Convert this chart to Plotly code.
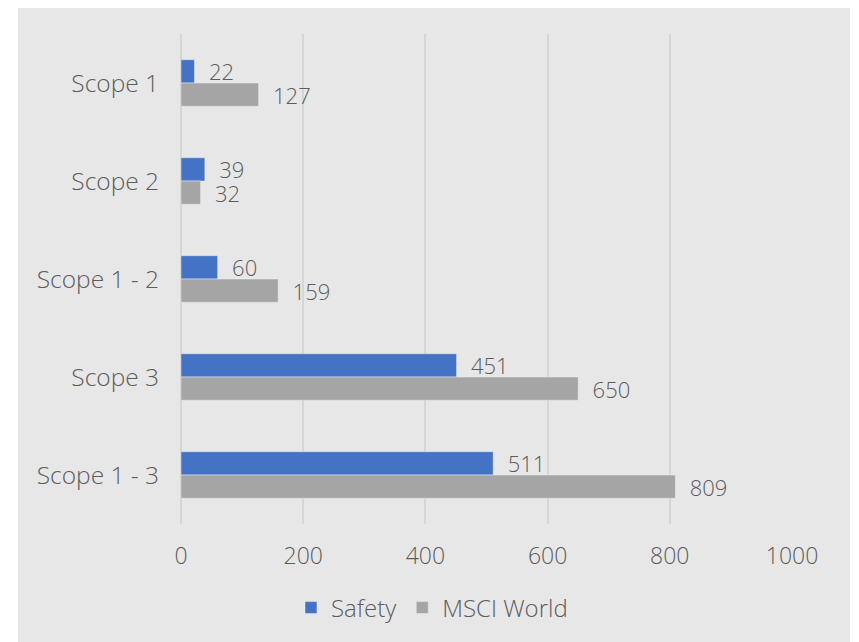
import plotly.graph_objects as go

categories = ["Scope 1", "Scope 2", "Scope 1 - 2", "Scope 3", "Scope 1 - 3"]
safety = [22, 39, 60, 451, 511]
msci_world = [127, 32, 159, 650, 809]
x_ticks = [0, 200, 400, 600, 800, 1000]

OFF = 8  # page body margin
W, H = 859 - OFF, 642 - OFF
ML, MR, MT, MB = 181 - OFF, 67, 34 - OFF, 118
PW, PH = W - ML - MR, H - MT - MB

def px_x(p):
    return (p - OFF - ML) / PW

def px_y(p):
    return (H - MB - (p - OFF)) / PH

FONT = "Open Sans"
TXT = "#5c5c5c"

fig = go.Figure()
for name, vals, col in [("Safety", safety, "#4472C4"), ("MSCI World", msci_world, "#A5A5A5")]:
    fig.add_trace(go.Bar(
        name=name, y=categories, x=vals, orientation="h",
        marker=dict(color=col),
        texttemplate="\u00a0\u00a0%{x}", textposition="outside",
        constraintext="none",
        textfont=dict(family=FONT, size=22, color=TXT, weight=300), cliponaxis=False,
    ))

fig.update_layout(
    width=W, height=H,
    margin=dict(l=ML, r=MR, t=MT, b=MB),
    paper_bgcolor="white",
    plot_bgcolor="rgba(0,0,0,0)",
    barmode="group",
    bargap=0.525,
    bargroupgap=0,
    font=dict(family=FONT, size=22, color=TXT, weight=300),
    showlegend=True,
    legend=dict(
        orientation="h", x=px_x(432), xanchor="center",
        y=px_y(608), yanchor="middle",
        font=dict(family=FONT, size=24, color=TXT, weight=300),
        bgcolor="rgba(0,0,0,0)", itemwidth=30,
    ),
    xaxis=dict(
        range=[0, 1000], tickvals=x_ticks, ticktext=[str(v) for v in x_ticks],
        showgrid=True, gridcolor="#D6D6D6", gridwidth=1.5,
        zeroline=True, zerolinecolor="#D6D6D6", zerolinewidth=1.5,
        showline=False, ticks="outside", ticklen=11, tickcolor="rgba(0,0,0,0)",
        tickfont=dict(family=FONT, size=23, color=TXT, weight=300), fixedrange=True,
    ),
    yaxis=dict(
        categoryorder="array", categoryarray=categories, autorange="reversed",
        showgrid=False, zeroline=False, showline=False,
        ticks="outside", ticklen=16, tickcolor="rgba(0,0,0,0)",
        tickfont=dict(family=FONT, size=24.5, color=TXT, weight=300), fixedrange=True,
    ),
    shapes=[dict(
        type="rect", xref="paper", yref="paper", layer="below",
        x0=px_x(18), x1=px_x(850), y0=px_y(660), y1=px_y(0),
        fillcolor="#E7E7E7", line=dict(width=0),
    )],
)

fig.write_html("out.html")
